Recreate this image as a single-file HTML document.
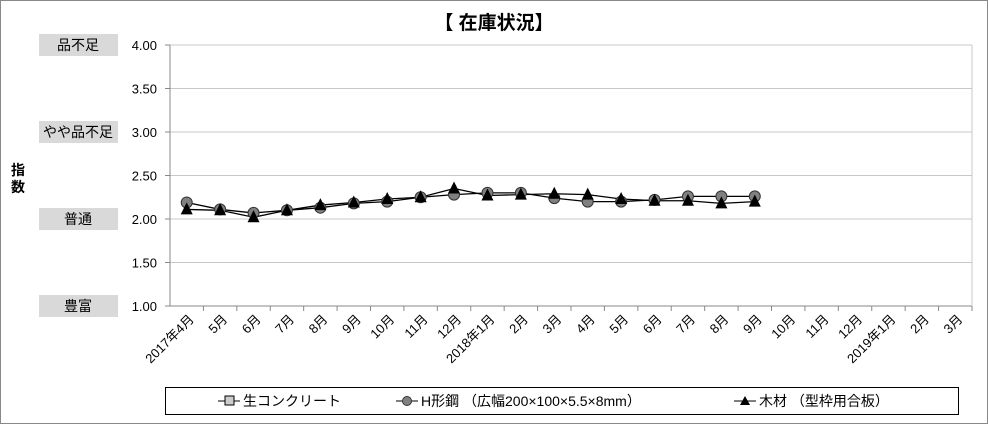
<!DOCTYPE html>
<html><head><meta charset="utf-8"><style>
body{margin:0;background:#fff;font-family:"Liberation Sans","Noto Sans CJK JP",sans-serif}
</style></head><body>
<svg width="988" height="424" xmlns="http://www.w3.org/2000/svg" font-family="'Liberation Sans','Noto Sans CJK JP',sans-serif">
<rect x="0.5" y="0.5" width="987" height="423" fill="#fff" stroke="#888"/>
<text x="494" y="29" font-size="19" font-weight="bold" text-anchor="middle">【 在庫状況】</text>
<text x="18" y="175" font-size="14" font-weight="bold" text-anchor="middle"><tspan x="18" y="175">指</tspan><tspan x="18" y="192">数</tspan></text>
<g id="grid"></g><g id="labels"></g><g id="series"></g>
<rect x="165.5" y="387.5" width="793" height="27" fill="#fff" stroke="#000"/>
<g><line x1="218" y1="401" x2="240" y2="401" stroke="#000"/><rect x="225" y="396" width="9" height="9" fill="#ccc" stroke="#000"/><text x="243" y="406" font-size="14">生コンクリート</text></g>
<g><line x1="396" y1="401" x2="418" y2="401" stroke="#000"/><circle cx="407" cy="401" r="4.5" fill="#808080" stroke="#333"/><text x="421" y="406" font-size="14">H形鋼 （広幅200×100×5.5×8mm）</text></g>
<g><line x1="734" y1="401" x2="756" y2="401" stroke="#000"/><polygon points="745,396 750,405 740,405" fill="#000"/><text x="759" y="406" font-size="14">木材 （型枠用合板）</text></g>
</svg>
<script>
const categories=["2017年4月","5月","6月","7月","8月","9月","10月","11月","12月","2018年1月","2月","3月","4月","5月","6月","7月","8月","9月","10月","11月","12月","2019年1月","2月","3月"];
const yTicks=[1.00,1.50,2.00,2.50,3.00,3.50,4.00];
const levelLabels=["豊富","普通","やや品不足","品不足"];
const levelValues=[1,2,3,4];
const hSteel=[2.19,2.11,2.07,2.10,2.13,2.18,2.20,2.25,2.28,2.30,2.30,2.24,2.20,2.20,2.22,2.26,2.26,2.26];
const wood=[2.11,2.10,2.02,2.10,2.16,2.19,2.23,2.25,2.35,2.27,2.28,2.29,2.28,2.23,2.21,2.21,2.18,2.20];
const NS="http://www.w3.org/2000/svg";
const X0=170,X1=972,Y0=306,Y1=45,ymin=1,ymax=4;
const bw=(X1-X0)/categories.length;
const xs=i=>X0+bw*(i+0.5);
const ys=v=>Y0-(v-ymin)/(ymax-ymin)*(Y0-Y1);
function mk(t,a,p){const e=document.createElementNS(NS,t);for(const k in a)e.setAttribute(k,a[k]);p.appendChild(e);return e;}
const g=document.getElementById('grid'),lb=document.getElementById('labels'),s=document.getElementById('series');
yTicks.forEach(v=>{
const l=mk('line',{x1:X0,x2:X1,y1:ys(v),y2:ys(v),stroke:v===1?'#888':'#c8c8c8'},g);


const t=mk('text',{x:157,y:ys(v)+5,'font-size':13,'text-anchor':'end'},lb);t.textContent=v.toFixed(2);


mk('line',{x1:X0-5,x2:X0,y1:ys(v),y2:ys(v),stroke:'#888'},g);
});
mk('line',{x1:X0,x2:X0,y1:Y1,y2:Y0,stroke:'#888'},g);
mk('line',{x1:X1,x2:X1,y1:Y1,y2:Y0,stroke:'#c8c8c8'},g);
levelLabels.forEach((n,i)=>{
const r=mk('rect',{x:39,y:ys(levelValues[i])-11,width:79,height:22,fill:'#d9d9d9'},lb);


const t=mk('text',{x:78,y:ys(levelValues[i])+5,'font-size':14,'text-anchor':'middle'},lb);t.textContent=n;


});
categories.forEach((c,i)=>{
const x=X0+bw*(i+1);
mk('line',{x1:x,x2:x,y1:Y0,y2:Y0+5,stroke:'#888'},g);
const cx=xs(i)+8,cy=Y0+14;
const t=mk('text',{x:cx,y:cy,'font-size':13,'text-anchor':'end',transform:`rotate(-45 ${cx} ${cy})`},lb);t.textContent=c;


});
function line(arr,name){
const p=mk('polyline',{points:arr.map((v,i)=>xs(i)+','+ys(v)).join(' '),fill:'none',stroke:'#000','stroke-width':1.3},s);


}
line(hSteel,'h-steel');line(wood,'wood');
hSteel.forEach((v,i)=>{const c=mk('circle',{cx:xs(i),cy:ys(v),r:5.5,fill:'#808080',stroke:'#333'},s);

});
wood.forEach((v,i)=>{const x=xs(i),y=ys(v);const p=mk('polygon',{points:`${x},${y-7} ${x+6},${y+5} ${x-6},${y+5}`,fill:'#000'},s);

});
</script>
</body></html>
